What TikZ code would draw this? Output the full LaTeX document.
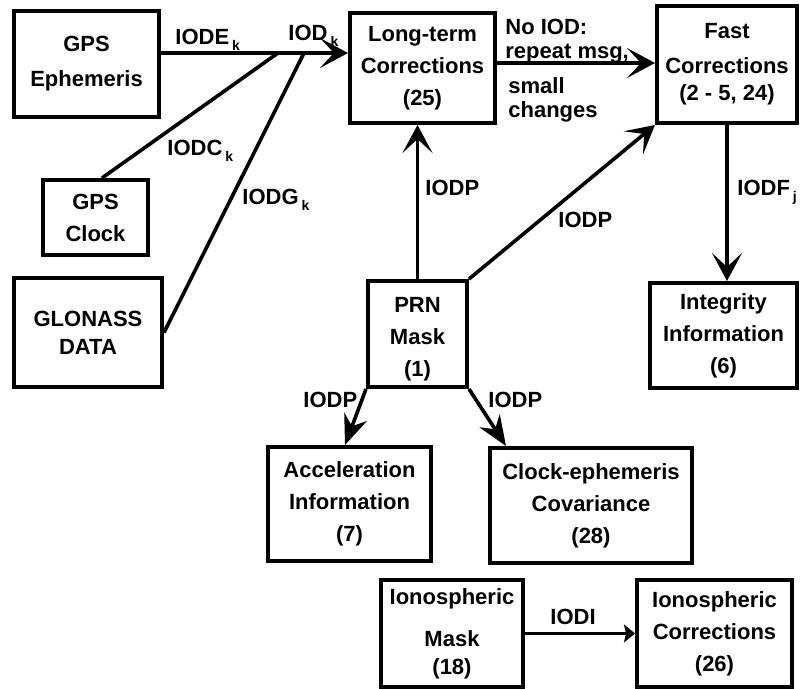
\documentclass[tikz,border=0pt]{standalone}
\usepackage{fontspec}
\setmainfont{Liberation Sans}
\usetikzlibrary{arrows.meta}
\newcommand\lsub[1]{\hspace{1.5pt}\raisebox{-2.6pt}{\fontsize{7}{7}\selectfont #1}}
\begin{document}
\begin{tikzpicture}[x=0.5pt,y=-0.5pt,
  box/.style={draw,line width=2pt,align=center,inner sep=0pt,font=\fontsize{11}{16}\selectfont\bfseries},
  lbl/.style={inner sep=0pt,anchor=base west,font=\fontsize{11}{13}\selectfont\bfseries},
  conn/.style={line width=1.8pt},
  barb/.style={conn,-{Stealth[length=14pt,width=15pt,inset=7pt]}},
  big/.style={conn,-{Stealth[length=15pt,width=12pt,inset=5pt]}},
  small/.style={conn,-{Stealth[length=5.5pt,width=9pt,inset=1pt]}}]
\useasboundingbox (0,0) rectangle (811,689);

% boxes
\node[box,minimum width=72.5pt,minimum height=53pt] (eph) at (86.5,64) {GPS\\[1.5pt]Ephemeris};
\node[box,minimum width=52.5pt,minimum height=37.5pt] (clock) at (95.5,217.5) {GPS\\Clock};
\node[box,minimum width=74pt,minimum height=54.5pt] (glo) at (88,332.5) {GLONASS\\[-2pt]DATA};
\node[box,minimum width=72.5pt,minimum height=55pt] (lt) at (422.5,68) {Long-term\\Corrections\\(25)};
\node[box,minimum width=70pt,minimum height=58.5pt] (fast) at (727,64.5) {Fast\\[1.5pt]Corrections\\[-2.5pt](2 - 5, 24)};
\node[box,minimum width=49.5pt,minimum height=53pt] (prn) at (417.5,334) {\\[-3pt]PRN\\Mask\\(1)};
\node[box,minimum width=73.5pt,minimum height=52.5pt] (integ) at (723.5,335.5) {Integrity\\Information\\(6)};
\node[box,minimum width=81.5pt,minimum height=57pt] (accel) at (349.5,504) {Acceleration\\Information\\(7)};
\node[box,minimum width=101pt,minimum height=57.5pt] (cov) at (591,505.5) {Clock-ephemeris\\Covariance\\(28)};
\node[box,minimum width=71pt,minimum height=53.5pt] (imask) at (452,633.5) {Ionospheric\\[5pt]Mask\\[-2pt](18)};
\node[box,minimum width=77.5pt,minimum height=53.5pt] (icorr) at (714.5,633.5) {Ionospheric\\Corrections\\(26)};

% junctions
\coordinate (jc) at (278,53);
\coordinate (jg) at (304,53);

% connectors
\draw[barb] ([yshift=5.5pt]eph.east) -- ([yshift=5.5pt]eph.east -| lt.west);
\draw[conn] ([xshift=3.25pt]clock.north) -- (jc);
\draw[conn] (glo.east) -- (jg);
\draw[barb] ([yshift=2.5pt]lt.east) -- ([yshift=2.5pt]lt.east -| fast.west);
\draw[barb] (prn.north) -- (prn.north |- lt.south);
\draw[barb] (prn.north east) -- (fast.south west);
\draw[barb] (fast.south) -- (fast.south |- integ.north);
\draw[big] (prn.south west) -- ([xshift=-2.25pt]accel.north);
\draw[big] (prn.south east) -- ([xshift=9pt]cov.north west);
\draw[small] (imask.east) -- (icorr.west);

% labels
\node[lbl] (lE) at (175,45) {IODE\lsub{k}};
\node[lbl] (lOD) at (288,41) {IOD\lsub{k}};
\node[lbl] (lC) at (167,156) {IODC\lsub{k}};
\node[lbl] (lG) at (242,205) {IODG\lsub{k}};
\node[lbl,anchor=north west,align=left,font=\fontsize{11}{11.75}\selectfont\bfseries] (noiod) at (505,19) {No IOD:\\repeat msg,\\[6pt]\hspace*{1.5pt}small\\\hspace*{1.5pt}changes};
\node[lbl] (lP1) at (425,196) {IODP};
\node[lbl] (lP2) at (558,228) {IODP};
\node[lbl] (lF) at (737,196) {IODF\lsub{j}};
\node[lbl] (lP3) at (303,408) {IODP};
\node[lbl] (lP4) at (488,408) {IODP};
\node[lbl] (lI) at (550,625) {IODI};
\end{tikzpicture}
\end{document}
